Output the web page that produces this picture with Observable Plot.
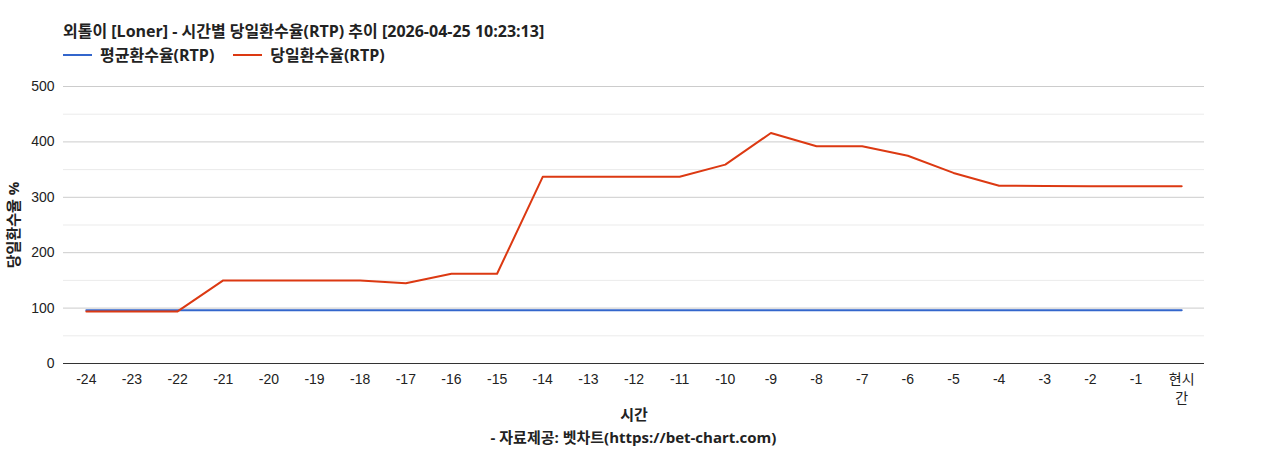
<!DOCTYPE html>
<html>
<head>
<meta charset="utf-8">
<script src="https://cdn.jsdelivr.net/npm/d3@7"></script>
<script src="https://cdn.jsdelivr.net/npm/@observablehq/plot@0.6"></script>
<style>
  html, body { margin: 0; padding: 0; background: #fff; }
  body { width: 1268px; height: 450px; position: relative; overflow: hidden;
         font-family: "Open Sans", "Noto Sans CJK KR", sans-serif; color: #222; }
  #title { position: absolute; left: 63px; top: 20px; font-size: 16px; font-weight: bold; line-height: 22px; white-space: nowrap; }
  #legend { position: absolute; left: 63px; top: 44px; font-size: 16px; font-weight: bold; line-height: 22px; white-space: nowrap; display: flex; align-items: center; }
  .sw { display: inline-block; width: 29px; height: 2px; margin-right: 8px; }
  .item { display: flex; align-items: center; margin-right: 19px; }
  #chart { position: absolute; left: 0; top: 70px; }
  #caption { position: absolute; left: 63px; width: 1141px; top: 426px; text-align: center; font-size: 15px; font-weight: bold; line-height: 22px; }
  g[aria-label="y-axis label"] text, g[aria-label="x-axis label"] text { font-weight: bold; font-family: "Open Sans", "Noto Sans CJK KR", sans-serif; font-size: 15px; }
</style>
</head>
<body>
<div id="title">외톨이 [Loner] - 시간별 당일환수율(RTP) 추이 [2026-04-25 10:23:13]</div>
<div id="legend"></div>
<div id="chart"></div>
<div id="caption">- 자료제공: 벳차트(https://bet-chart.com)</div>
<script>
const hours = ["-24","-23","-22","-21","-20","-19","-18","-17","-16","-15","-14","-13","-12","-11","-10","-9","-8","-7","-6","-5","-4","-3","-2","-1","현시간"];
const avgRTP = [96,96,96,96,96,96,96,96,96,96,96,96,96,96,96,96,96,96,96,96,96,96,96,96,96];
const dayRTP = [94,94,94,150,150,150,150,145,162,162,337,337,337,337,359,416,392,392,375,344,321,320.5,320,320,320];
const seriesNames = ["평균환수율(RTP)", "당일환수율(RTP)"];
const seriesColors = ["#3366cc", "#dc3912"];
const yTicks = [0,100,200,300,400,500];
const yMinor = [50,150,250,350,450];

const avgData = hours.map((h, i) => ({hour: h, value: avgRTP[i]}));
const dayData = hours.map((h, i) => ({hour: h, value: dayRTP[i]}));

const legend = document.getElementById("legend");
seriesNames.forEach((n, i) => {
  const it = document.createElement("span");
  it.className = "item";
  it.innerHTML = `<span class="sw" style="background:${seriesColors[i]}"></span>${n}`;
  legend.appendChild(it);
});

const chart = Plot.plot({
  width: 1268,
  height: 358,
  marginLeft: 63,
  marginRight: 64,
  marginTop: 16,
  marginBottom: 65,
  style: {fontFamily: '"Liberation Sans", "Noto Sans CJK KR", sans-serif', fontSize: "14px", color: "#222", background: "#fff", overflow: "visible"},
  x: {type: "point", domain: hours, padding: 0.5, round: false, label: null},
  y: {domain: [0, 500], label: null},
  marks: [
    Plot.ruleY(yMinor, {stroke: "#ebebeb", strokeWidth: 1}),
    Plot.ruleY(yTicks.filter(d => d > 0), {stroke: "#cccccc", strokeWidth: 1}),
    Plot.axisY({ticks: yTicks, tickSize: 0, tickPadding: 9, label: "당일환수율 %", labelArrow: "none", labelAnchor: "center", labelOffset: 55}),
    Plot.axisX({tickSize: 0, tickPadding: 7, lineHeight: 1.35, tickFormat: d => d === "현시간" ? "현시\n간" : d, label: "시간", labelArrow: "none", labelAnchor: "center", labelOffset: 56}),
    Plot.line(avgData, {x: "hour", y: "value", stroke: seriesColors[0], strokeWidth: 2}),
    Plot.line(dayData, {x: "hour", y: "value", stroke: seriesColors[1], strokeWidth: 2}),
    Plot.ruleY([0], {stroke: "#333", strokeWidth: 1})
  ]
});
document.getElementById("chart").appendChild(chart);
</script>
</body>
</html>
